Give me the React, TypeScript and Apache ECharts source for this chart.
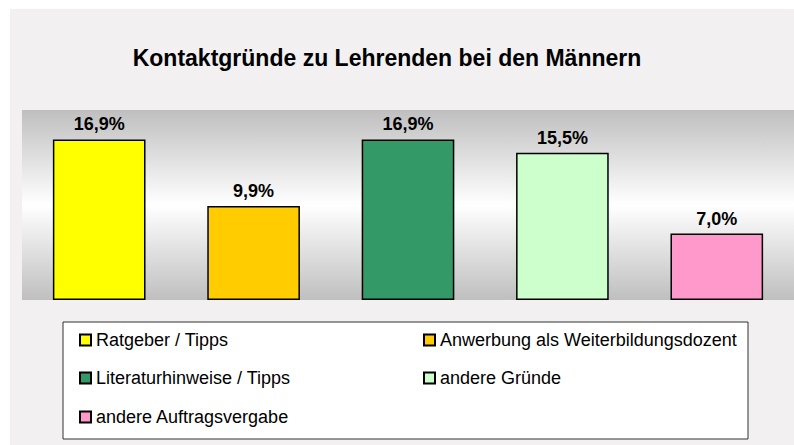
import React, { useEffect, useRef } from "react";
import * as echarts from "echarts";

const categories = [
  "Ratgeber / Tipps",
  "Anwerbung als Weiterbildungsdozent",
  "Literaturhinweise / Tipps",
  "andere Gründe",
  "andere Auftragsvergabe",
];
const values = [16.9, 9.9, 16.9, 15.5, 7.0];
const colors = ["#ffff00", "#ffcc00", "#339966", "#ccffcc", "#ff99cc"];
const titleText = "Kontaktgründe zu Lehrenden bei den Männern";
const legendPos = [
  { left: 79, top: 331 },
  { left: 423, top: 331 },
  { left: 79, top: 369 },
  { left: 423, top: 369 },
  { left: 79, top: 408 },
];

const FONT = "'Liberation Sans', Arial, sans-serif";

export default function App() {
  const ref = useRef<HTMLDivElement>(null);
  useEffect(() => {
    if (!ref.current) return;
    const chart = echarts.init(ref.current, null, { renderer: "svg" });
    const series = categories.map((name, i) => ({
      name,
      type: "bar",
      stack: "all",
      barCategoryGap: "40%",
      data: values.map((v, j) => (j === i ? v : null)),
      itemStyle: { color: colors[i], borderColor: "#000", borderWidth: 1.5 },
      label: {
        show: true,
        position: "top",
        distance: 6,
        fontFamily: FONT,
        fontWeight: "bold",
        fontSize: 18,
        color: "#000",
        formatter: (p: any) => p.value.toFixed(1).replace(".", ",") + "%",
      },
    }));
    chart.setOption({
      animation: false,
      backgroundColor: "#ffffff",
      graphic: [
        {
          type: "rect",
          z: -10,
          shape: { x: 10, y: 9, width: 784, height: 436 },
          style: { fill: "#f2f0f1" },
        },
        {
          type: "rect",
          z: -5,
          shape: { x: 63, y: 322, width: 685, height: 117 },
          style: { fill: "#ffffff", stroke: "#333", lineWidth: 1 },
        },
      ],
      title: {
        text: titleText,
        left: 387,
        top: 46,
        textAlign: "center",
        padding: 0,
        textStyle: { fontFamily: FONT, fontWeight: "bold", fontSize: 23, color: "#000" },
      },
      grid: {
        left: 22,
        right: -3,
        top: 110,
        bottom: 145,
        show: true,
        borderWidth: 0,
        backgroundColor: new echarts.graphic.LinearGradient(0, 0, 0, 1, [
          { offset: 0, color: "#bfbfbf" },
          { offset: 0.5, color: "#ffffff" },
          { offset: 1, color: "#bfbfbf" },
        ]),
      },
      xAxis: {
        type: "category",
        data: categories,
        show: false,
      },
      yAxis: {
        type: "value",
        min: 0,
        max: 20,
        show: false,
        splitLine: { show: false },
      },
      legend: categories.map((name, i) => ({
        data: [name],
        left: legendPos[i].left,
        top: legendPos[i].top,
        padding: 0,
        itemWidth: 11,
        itemHeight: 11,
        itemGap: 0,
        icon: "rect",
        selectedMode: false,
        textStyle: { fontFamily: FONT, fontSize: 18, color: "#000" },
      })),
      series,
    });
    return () => chart.dispose();
  }, []);
  return (
    <div
      ref={ref}
      style={{ position: "absolute", left: 0, top: 0, width: 794, height: 445 }}
    />
  );
}
